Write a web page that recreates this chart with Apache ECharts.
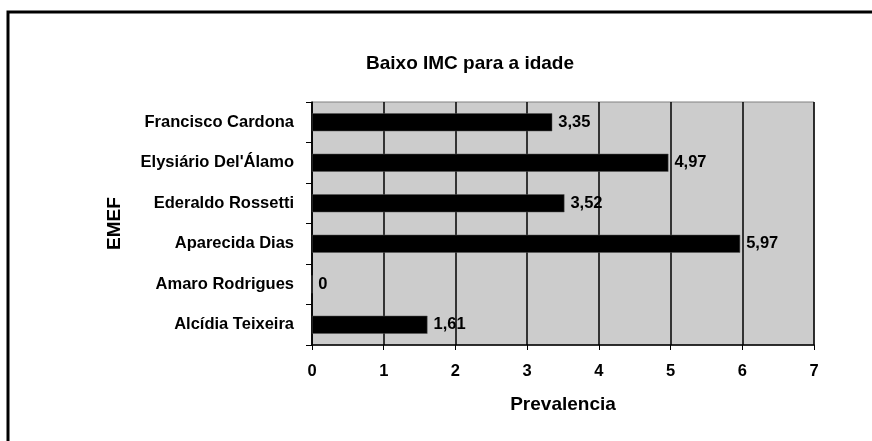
<!DOCTYPE html>
<html>
<head>
<meta charset="utf-8">
<script src="https://cdn.jsdelivr.net/npm/echarts@6/dist/echarts.min.js"></script>
<style>
  html, body { margin: 0; padding: 0; background: #fff; }
  #main { width: 872px; height: 441px; }
</style>
</head>
<body>
<div id="main"></div>
<script>
// escolas (de baixo para cima) e prevalencia
const schools = ['Alcídia Teixeira', 'Amaro Rodrigues', 'Aparecida Dias', 'Ederaldo Rossetti', "Elysiário Del'Álamo", 'Francisco Cardona'];
const prevalence = [1.61, 0, 5.97, 3.52, 4.97, 3.35];

const font = 'Liberation Sans, Arial, sans-serif';
const chart = echarts.init(document.getElementById('main'));

chart.setOption({
  animation: false,
  backgroundColor: '#fff',
  title: {
    text: 'Baixo IMC para a idade',
    left: 465, top: 49, textAlign: 'center',
    textStyle: { fontFamily: font, fontSize: 19, fontWeight: 'bold', color: '#000' }
  },
  graphic: [{
    type: 'rect',
    shape: { x: 8, y: 12, width: 900, height: 500 },
    style: { fill: 'none', stroke: '#000', lineWidth: 3 }
  }],
  grid: {
    left: 312, right: 58, top: 102, bottom: 96,
    show: true, backgroundColor: '#cccccc', borderColor: '#808080', borderWidth: 1
  },
  xAxis: {
    type: 'value', min: 0, max: 7, interval: 1,
    name: 'Prevalencia', nameLocation: 'middle', nameGap: 50,
    nameTextStyle: { fontFamily: font, fontSize: 19, fontWeight: 'bold', color: '#000' },
    axisLine: { show: true, lineStyle: { color: '#000', width: 1.5 } },
    axisTick: { show: true, length: 5, lineStyle: { color: '#000' } },
    axisLabel: { fontFamily: font, fontSize: 16.5, fontWeight: 'bold', color: '#000', margin: 18 },
    splitLine: { show: true, lineStyle: { color: '#000', width: 1.5 } }
  },
  yAxis: {
    type: 'category', data: schools,
    name: 'EMEF', nameLocation: 'middle', nameGap: 188, nameRotate: 90,
    nameTextStyle: { fontFamily: font, fontSize: 19, fontWeight: 'bold', color: '#000' },
    axisLine: { show: true, lineStyle: { color: '#000', width: 1.5 } },
    axisTick: { show: true, length: 6, lineStyle: { color: '#000' } },
    axisLabel: { fontFamily: font, fontSize: 16.5, fontWeight: 'bold', color: '#000', margin: 18 },
    splitLine: { show: false }
  },
  series: [{
    type: 'bar', data: prevalence, barWidth: 18,
    itemStyle: { color: '#000', borderColor: '#555', borderWidth: 0.5 },
    label: {
      show: true, position: 'right', distance: 6,
      formatter: p => String(p.value).replace('.', ','),
      fontFamily: font, fontSize: 16.5, fontWeight: 'bold', color: '#000'
    }
  }]
});
</script>
</body>
</html>
